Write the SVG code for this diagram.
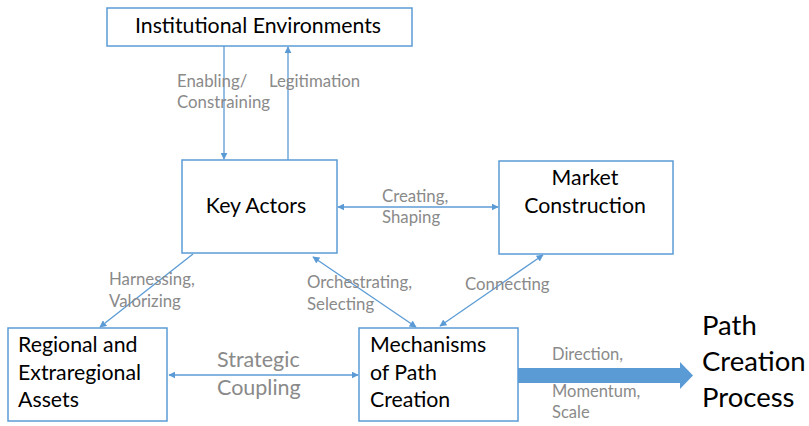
<svg xmlns="http://www.w3.org/2000/svg" width="809" height="426" viewBox="0 0 809 426">
  <defs>
    <style>
      .box { fill: #ffffff; stroke: #5b9bd5; stroke-width: 1.5; }
      .lbl { font-family: Lato, "Open Sans", "Liberation Sans", sans-serif; font-size: 21.3px; fill: #000000; }
      .edge { fill: none; stroke: #5b9bd5; stroke-width: 1.3; }
      .note { font-family: Lato, "Open Sans", "Liberation Sans", sans-serif; font-size: 16.8px; fill: #8a8a8a; }
      .note-lg { font-family: Lato, "Open Sans", "Liberation Sans", sans-serif; font-size: 21.5px; fill: #8a8a8a; }
      .note-sm { font-family: Lato, "Open Sans", "Liberation Sans", sans-serif; font-size: 16.5px; fill: #8a8a8a; }
      .big { font-family: Lato, "Open Sans", "Liberation Sans", sans-serif; font-size: 27.5px; fill: #000000; }
    </style>
    <marker id="tip" viewBox="0 0 10 10" refX="9" refY="5" markerWidth="7" markerHeight="7" markerUnits="userSpaceOnUse" orient="auto-start-reverse">
      <path d="M0,0 L10,5 L0,10 z" fill="#5b9bd5"/>
    </marker>
  </defs>

  <rect width="809" height="426" fill="#ffffff"/>

  <!-- connectors -->
  <g id="connectors">
    <line class="edge" x1="224" y1="46" x2="224" y2="159" marker-end="url(#tip)"/>
    <line class="edge" x1="288" y1="160" x2="288" y2="47" marker-end="url(#tip)"/>
    <line class="edge" x1="338" y1="207" x2="498" y2="207" marker-start="url(#tip)" marker-end="url(#tip)"/>
    <line class="edge" x1="193" y1="254" x2="100" y2="327" marker-end="url(#tip)"/>
    <line class="edge" x1="313" y1="257" x2="416" y2="327" marker-start="url(#tip)" marker-end="url(#tip)"/>
    <line class="edge" x1="543" y1="255" x2="440" y2="326" marker-start="url(#tip)" marker-end="url(#tip)"/>
    <line class="edge" x1="169" y1="375" x2="358" y2="375" marker-start="url(#tip)" marker-end="url(#tip)"/>
    <!-- thick outcome arrow -->
    <path d="M518,368 L680,368 L680,362 L693,375.5 L680,389 L680,383 L518,383 z" fill="#5b9bd5"/>

    <text class="note" x="177" y="87">Enabling/</text>
    <text class="note" x="177" y="108">Constraining</text>
    <text class="note" x="269" y="87">Legitimation</text>
    <text class="note" x="382" y="202">Creating,</text>
    <text class="note" x="382" y="223">Shaping</text>
    <text class="note" x="109" y="285">Harnessing,</text>
    <text class="note" x="109" y="307">Valorizing</text>
    <text class="note" x="307" y="288">Orchestrating,</text>
    <text class="note" x="307" y="310">Selecting</text>
    <text class="note" x="465" y="290">Connecting</text>
    <text class="note-lg" x="217" y="367">Strategic</text>
    <text class="note-lg" x="217" y="395">Coupling</text>
    <text class="note-sm" x="552" y="360">Direction,</text>
    <text class="note-sm" x="552" y="397">Momentum,</text>
    <text class="note-sm" x="552" y="418">Scale</text>
  </g>

  <g id="institutional-environments">
    <rect class="box" x="107" y="8" width="305" height="38"/>
    <text class="lbl" x="258" y="33" text-anchor="middle">Institutional Environments</text>
  </g>

  <g id="key-actors">
    <rect class="box" x="182" y="160" width="155" height="93"/>
    <text class="lbl" x="256" y="213" text-anchor="middle">Key Actors</text>
  </g>

  <g id="market-construction">
    <rect class="box" x="499" y="161" width="174" height="93"/>
    <text class="lbl" x="585" y="185" text-anchor="middle">Market</text>
    <text class="lbl" x="585" y="213" text-anchor="middle">Construction</text>
  </g>

  <g id="regional-assets">
    <rect class="box" x="8" y="328" width="159" height="93"/>
    <text class="lbl" x="18" y="352">Regional and</text>
    <text class="lbl" x="18" y="380">Extraregional</text>
    <text class="lbl" x="18" y="407">Assets</text>
  </g>

  <g id="mechanisms">
    <rect class="box" x="359" y="328" width="159" height="93"/>
    <text class="lbl" x="370" y="352">Mechanisms</text>
    <text class="lbl" x="370" y="380">of Path</text>
    <text class="lbl" x="370" y="407">Creation</text>
  </g>

  <g id="path-creation-process">
    <text class="big" x="702" y="335">Path</text>
    <text class="big" x="702" y="371">Creation</text>
    <text class="big" x="702" y="407">Process</text>
  </g>
</svg>
